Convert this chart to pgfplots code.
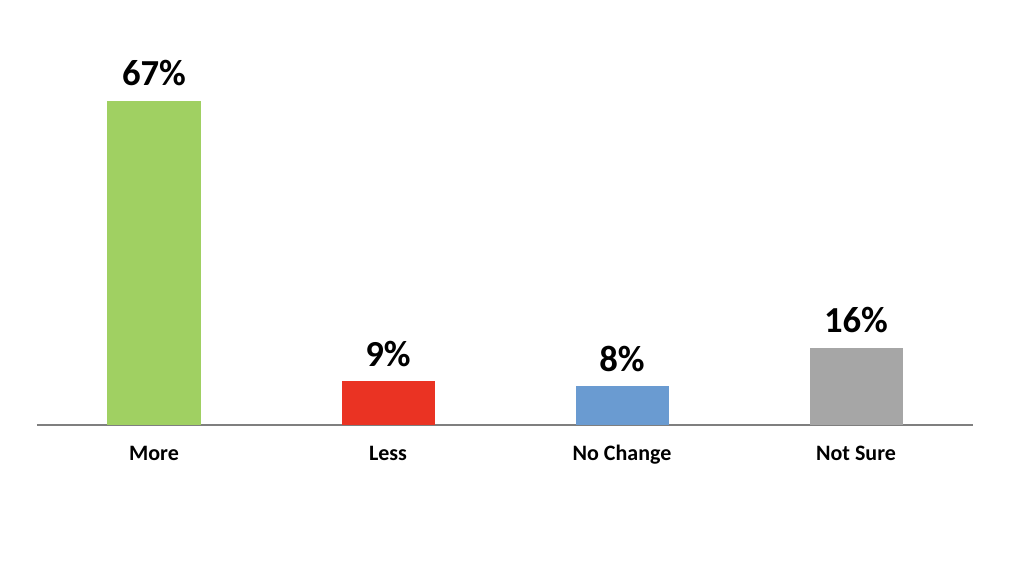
\documentclass[border=0pt]{standalone}
\usepackage{pgfplots}
\pgfplotsset{compat=1.18}
\usepackage{fontspec}
\setmainfont{Carlito}
\definecolor{cgreen}{HTML}{A0D062}
\definecolor{cred}{HTML}{EA3323}
\definecolor{cblue}{HTML}{6A9BD1}
\definecolor{cgray}{HTML}{A6A6A6}
\definecolor{caxis}{HTML}{7F7F7F}
\begin{document}
\begin{tikzpicture}
\path[use as bounding box] (0,0) rectangle (768pt,422.25pt);
\begin{axis}[
  at={(27.75pt,103.5pt)}, anchor=south west,
  scale only axis, width=702pt, height=318.75pt,
  xmin=-0.5, xmax=3.5, ymin=0, ymax=87.8,
  axis x line=bottom, axis y line=none,
  x axis line style={-, draw=caxis, line width=0.8pt},
  xtick={0,1,2,3},
  xticklabels={More,Less,No Change,Not Sure},
  major tick length=0pt,
  xticklabel style={anchor=base, yshift=-27pt, font=\fontsize{16.5}{18}\selectfont\bfseries},
  ybar, bar width=69.75pt, bar shift=0pt,
  nodes near coords={\pgfmathprintnumber[assume math mode=true]{\pgfplotspointmeta}\%},
  every node near coord/.append style={anchor=base, yshift=11.25pt, font=\fontsize{27.5}{30}\selectfont\bfseries, text=black},
  clip=false,
]
\addplot[fill=cgreen, draw=none] coordinates {(0,67)};
\addplot[fill=cred, draw=none] coordinates {(1,9)};
\addplot[fill=cblue, draw=none] coordinates {(2,8)};
\addplot[fill=cgray, draw=none] coordinates {(3,16)};
\end{axis}
\end{tikzpicture}
\end{document}
